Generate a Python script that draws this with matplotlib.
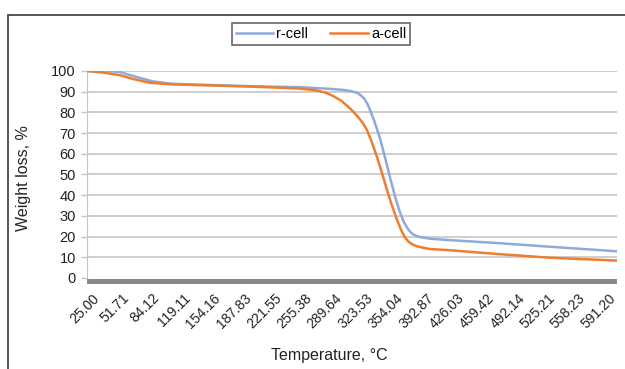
import matplotlib
matplotlib.use("Agg")
import matplotlib.pyplot as plt
from matplotlib.patches import Rectangle

plt.rcParams["font.family"] = ["Liberation Sans", "DejaVu Sans"]

# category axis labels (temperature, one every N samples)
temp_labels = ["25.00", "51.71", "84.12", "119.11", "154.16", "187.83", "221.55",
               "255.38", "289.64", "323.53", "354.04", "392.87", "426.03", "459.42",
               "492.14", "525.21", "558.23", "591.20"]

# curves, x in label-position units
r_x = [-0.16, 0.5, 0.92, 1.5, 2.0, 2.66, 4.0, 5.36, 6.84, 7.9, 8.3, 8.55, 8.72, 8.85,
       8.97, 9.07, 9.17, 9.3, 9.47, 9.65, 9.8, 10.0, 10.13, 10.25, 10.36, 10.46,
       10.56, 10.68, 10.82, 11.12, 11.78, 13.42, 15.07, 17.27]
r_cell = [100, 100, 99.5, 97, 95, 93.8, 93.2, 92.6, 92.2, 91.3, 90.8, 90.2, 89.5, 88.3,
          86.5, 84, 80.5, 75.5, 68, 58, 49, 38, 32, 27.5, 24.5, 22.5, 21.2, 20.3,
          19.7, 19, 18.3, 16.8, 15.1, 12.9]

a_x = [-0.16, 0.4, 0.92, 1.4, 1.91, 2.66, 4.0, 5.36, 6.84, 7.4, 7.7, 7.93, 8.2, 8.49,
       8.7, 8.91, 9.05, 9.2, 9.38, 9.55, 9.7, 9.85, 10.03, 10.18, 10.3, 10.42, 10.55,
       10.7, 10.9, 11.12, 11.78, 13.42, 15.07, 17.27]
a_cell = [100, 99.2, 98, 96, 94.3, 93.5, 93, 92.4, 91.5, 90.6, 89.5, 88, 85.7, 82,
          78.8, 75, 71.5, 66, 58.5, 50.5, 43, 36, 28.5, 23, 19.6, 17.5, 16.2, 15.3,
          14.6, 14, 13.4, 11.5, 9.8, 8.4]

fig = plt.figure(figsize=(6.25, 3.69), dpi=100)
ax = fig.add_axes([0.139, 0.2298, 0.848, 0.5778])

ax.plot(r_x, r_cell, color="#8eaadb", lw=1.8, label="r-cell", zorder=3)
ax.plot(a_x, a_cell, color="#ed7d31", lw=1.8, label="a-cell", zorder=3)

ax.set_xlim(-0.16, 17.27)
ax.set_ylim(-3, 100)
ax.set_yticks(range(0, 101, 10))
ax.set_xticks(range(len(temp_labels)))
ax.set_xticklabels(temp_labels, rotation=45, ha="right", va="top",
                   rotation_mode="anchor", fontsize=10, color="#222222")
ax.tick_params(axis="x", length=0, pad=5)
ax.tick_params(axis="y", length=4, width=1, color="#c8c2c2", pad=4,
               labelsize=10.5, labelcolor="#222222")

for v in range(10, 101, 10):
    ax.axhline(v, color="#cbc5c5", lw=1.2, zorder=1)
ax.axhline(-1.9, color="#8c8888", lw=4.3, zorder=2)

for s in ["top", "right", "bottom"]:
    ax.spines[s].set_visible(False)
ax.spines["left"].set_color("#c8c2c2")
ax.spines["left"].set_bounds(0, 100)

ax.set_xlabel("Temperature, °C", fontsize=11.5, color="#222222")
ax.xaxis.set_label_coords(0.458, -0.335)
ax.xaxis.label.set_va("center")
ax.set_ylabel("Weight loss, %", fontsize=11.5, color="#222222")
ax.yaxis.set_label_coords(-0.119, 0.5)
ax.yaxis.label.set_va("center")

leg = fig.legend(loc="upper left", bbox_to_anchor=(0.371, 0.937), ncol=2,
                 fontsize=10.5, frameon=True, fancybox=False, handlelength=2.6,
                 handletextpad=0.2, columnspacing=1.5, borderpad=0.25,
                 borderaxespad=0)
leg.get_frame().set_edgecolor("#404040")
leg.get_frame().set_linewidth(1.2)

fig.add_artist(Rectangle((8 / 625, -0.1), 1.2, 1.0593, transform=fig.transFigure,
                         fill=False, edgecolor="#3a3a3a", lw=1.2))

fig.savefig("out.png", dpi=100)
